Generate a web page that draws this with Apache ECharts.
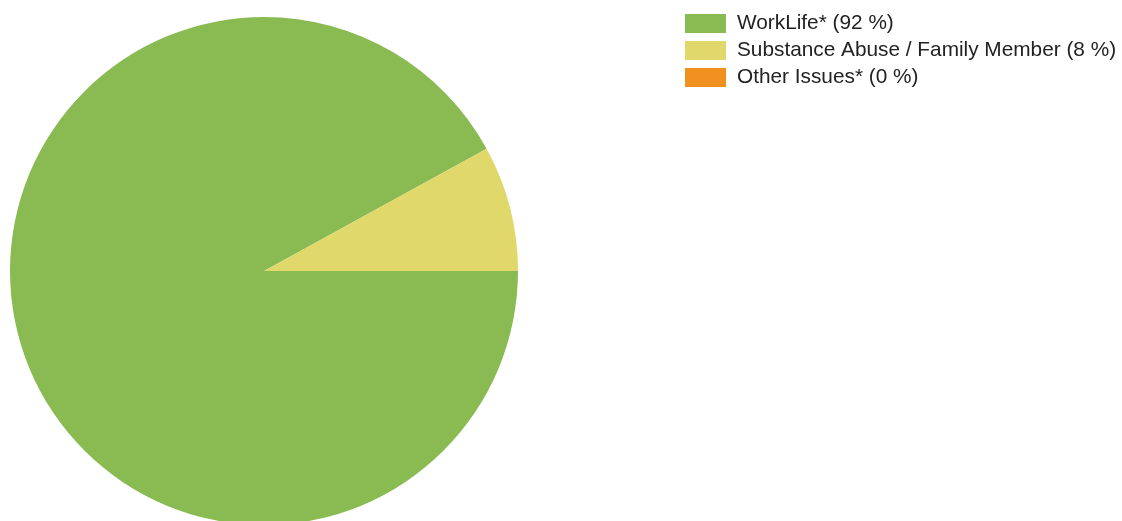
<!DOCTYPE html>
<html>
<head>
<meta charset="utf-8">
<style>
  html, body { margin: 0; padding: 0; background: #ffffff; }
  #chart { width: 1122px; height: 521px; }
</style>
<script src="https://cdn.jsdelivr.net/npm/echarts@6/dist/echarts.min.js"></script>
</head>
<body>
<div id="chart"></div>
<script>
// Issue categories and their share of cases (percent)
const categories = ['WorkLife*', 'Substance Abuse / Family Member', 'Other Issues*'];
const shares = [92, 8, 0];
const colors = ['#8aba52', '#e0d86a', '#f0911f'];

const chart = echarts.init(document.getElementById('chart'), null, { renderer: 'canvas' });

const data = categories.map((name, i) => ({
  name: name,
  value: shares[i],
  itemStyle: { color: colors[i] }
}));

chart.setOption({
  animation: false,
  backgroundColor: '#ffffff',
  legend: {
    orient: 'vertical',
    left: 685,
    top: 13,
    padding: 0,
    itemWidth: 41,
    itemHeight: 19,
    itemGap: 6,
    icon: 'rect',
    selectedMode: false,
    textStyle: {
      fontFamily: 'Liberation Sans, Arial, sans-serif',
      fontSize: 20.8,
      color: '#222222',
      padding: [0, 0, 0, 6]
    },
    formatter: function (name) {
      const i = categories.indexOf(name);
      return name + ' (' + shares[i] + ' %)';
    },
    data: categories
  },
  series: [{
    type: 'pie',
    center: [264, 271],
    radius: 254,
    startAngle: 0,
    clockwise: true,
    minAngle: 0,
    stillShowZeroSum: true,
    avoidLabelOverlap: false,
    label: { show: false },
    labelLine: { show: false },
    emphasis: { disabled: true },
    itemStyle: { borderWidth: 0 },
    data: data
  }]
});
</script>
</body>
</html>
